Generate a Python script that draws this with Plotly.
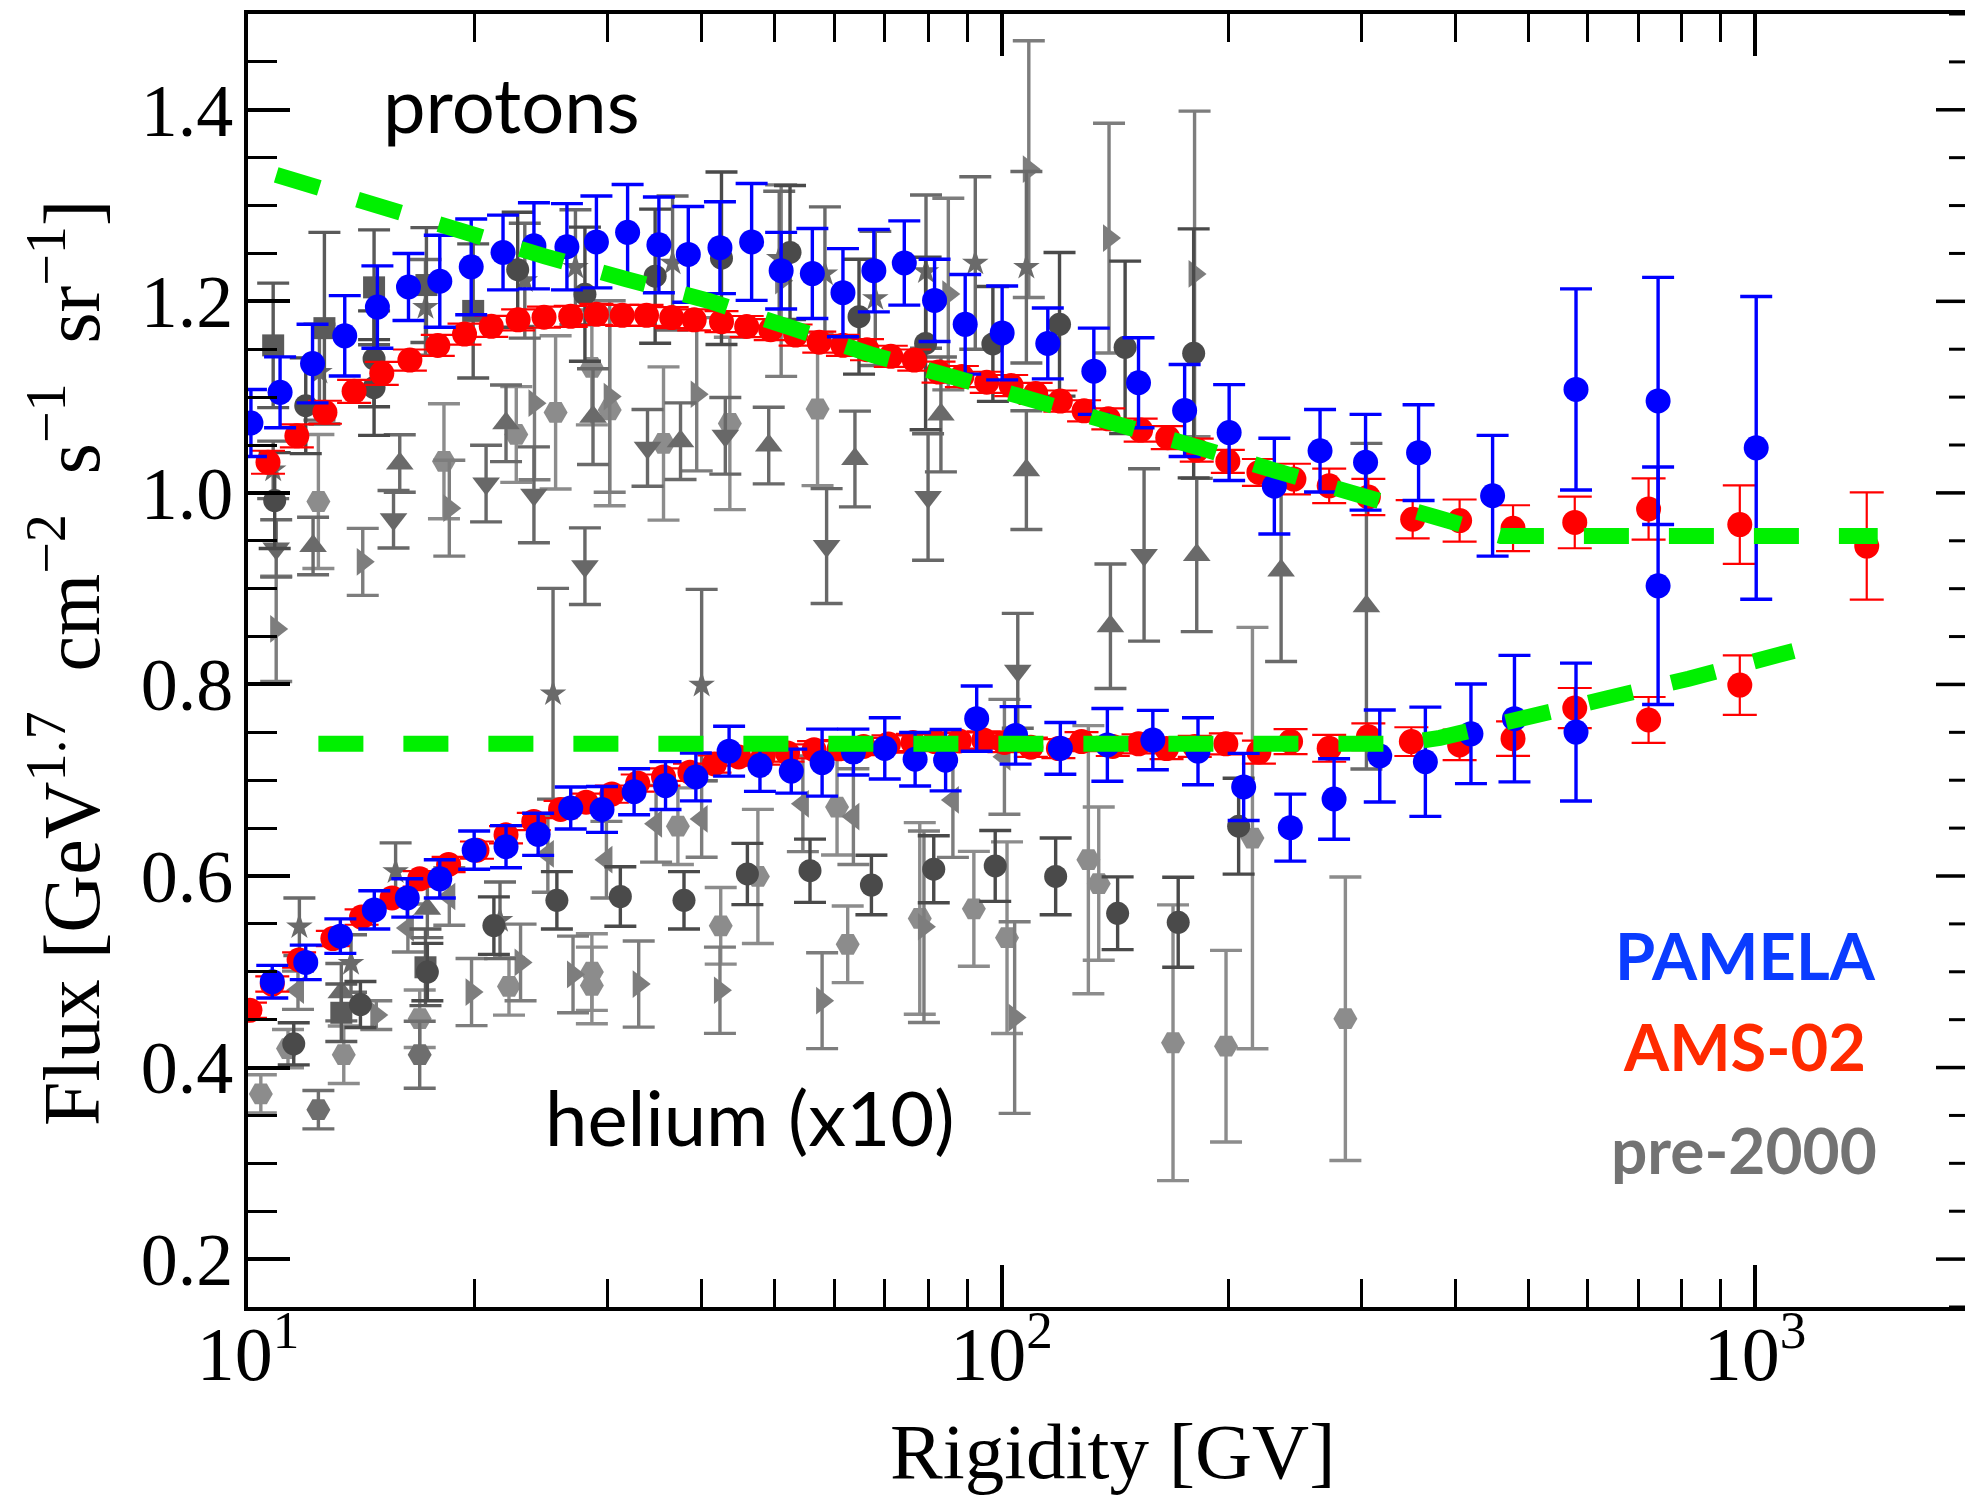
import plotly.graph_objects as go

# ---------------- data ----------------
# PAMELA protons
pam_p_R = [10.09, 11.03, 12.18, 13.44, 14.85, 16.33, 17.97, 19.78, 21.8, 23.96, 26.5, 29.0, 31.9, 35.1, 38.4,
           42.3, 46.6, 51.0, 56.1, 61.6, 67.7, 74.3, 81.5, 89.5, 100.2, 115.2, 132.6, 152, 175, 200.5,
           230.2, 264.7, 304.2, 357.7, 448.5, 578.7, 743.7, 743.7, 1003.7]
pam_p_F = [1.073, 1.105, 1.135, 1.164, 1.194, 1.215, 1.221, 1.236, 1.251, 1.258, 1.257, 1.262, 1.272, 1.259, 1.249,
           1.256, 1.262, 1.232, 1.229, 1.209, 1.232, 1.240, 1.201, 1.176, 1.167, 1.156, 1.127, 1.115, 1.086, 1.063,
           1.007, 1.044, 1.032, 1.042, 0.997, 1.108, 1.096, 0.903, 1.047]
pam_p_E = [0.035, 0.037, 0.041, 0.042, 0.043, 0.035, 0.048, 0.05, 0.039, 0.045, 0.045, 0.048, 0.05, 0.05, 0.05,
           0.048, 0.061, 0.04, 0.047, 0.046, 0.043, 0.044, 0.043, 0.052, 0.049, 0.037, 0.045, 0.047, 0.048, 0.05,
           0.05, 0.043, 0.05, 0.05, 0.063, 0.105, 0.129, 0.124, 0.158]

# AMS-02 protons
ams_p_R = [10.63, 11.61, 12.65, 13.83, 15.05, 16.4, 17.86, 19.38, 21.03, 22.83, 24.71, 26.81, 29.0, 31.38, 33.8,
           36.5, 39.1, 42.5, 45.9, 49.4, 53.3, 57.3, 61.6, 66.3, 71.3, 76.6, 82.5, 88.6, 95.6, 103, 111, 119.7,
           128.7, 138.6, 153, 166.2, 181.6, 199.7, 219.6, 244.4, 272.2, 306.8, 351.3, 405.5, 477.4, 576.5,
           722.4, 954.6, 1407]
ams_p_F = [1.032, 1.0596, 1.0842, 1.106, 1.1248, 1.1387, 1.154, 1.1658, 1.1739, 1.1807, 1.1834, 1.1843, 1.1864,
           1.1854, 1.1854, 1.183, 1.1807, 1.1788, 1.1737, 1.1704, 1.1648, 1.1574, 1.1541, 1.1495, 1.1426, 1.1387,
           1.1261, 1.1215, 1.1155, 1.1121, 1.1038, 1.0959, 1.0857, 1.0773, 1.0656, 1.0577, 1.0447, 1.033, 1.0214,
           1.0144, 1.0074, 0.9957, 0.9725, 0.9711, 0.9631, 0.9692, 0.9832, 0.9669, 0.9445]
ams_p_E = [0.012, 0.012, 0.012, 0.012, 0.012, 0.011, 0.011, 0.011, 0.011, 0.011, 0.011, 0.011, 0.011,
           0.011, 0.011, 0.011, 0.011, 0.011, 0.011, 0.011, 0.011, 0.011, 0.011, 0.011, 0.011, 0.011,
           0.011, 0.011, 0.011, 0.011, 0.011, 0.011, 0.011, 0.011, 0.012, 0.012, 0.012, 0.012, 0.014,
           0.016, 0.018, 0.019, 0.02, 0.022, 0.024, 0.027, 0.032, 0.041, 0.056]

# PAMELA helium (x10)
pam_he_R = [10.77, 11.93, 13.26, 14.71, 16.27, 17.97, 19.96, 22.0, 24.27, 26.81, 29.5, 32.54, 35.82, 39.3,
            43.5, 47.8, 52.6, 57.8, 63.6, 70.0, 76.8, 84.3, 92.7, 104.4, 119.7, 138.2, 158.8, 182.3, 209.6,
            241.7, 276.3, 317.7, 365.2, 419.8, 479.5, 578.7]
pam_he_F = [0.4897, 0.5098, 0.5372, 0.5646, 0.5771, 0.597, 0.627, 0.6306, 0.6435, 0.671, 0.6695, 0.688, 0.6944,
            0.7034, 0.7303, 0.7154, 0.7095, 0.7184, 0.7294, 0.7333, 0.7219, 0.7209, 0.7643, 0.7468, 0.7333,
            0.7369, 0.7419, 0.7303, 0.693, 0.6505, 0.6804, 0.7253, 0.7193, 0.7484, 0.7643, 0.7503]
pam_he_E = [0.017, 0.018, 0.018, 0.02, 0.02, 0.02, 0.02, 0.022, 0.022, 0.022, 0.024, 0.024, 0.025, 0.025,
            0.026, 0.027, 0.023, 0.035, 0.024, 0.032, 0.028, 0.032, 0.034, 0.03, 0.027, 0.038, 0.031, 0.035,
            0.035, 0.035, 0.042, 0.048, 0.057, 0.052, 0.066, 0.072]

# AMS-02 helium (x10)
ams_he_R = [10.06, 10.77, 11.69, 12.96, 14.15, 15.53, 16.9, 18.46, 20.13, 22.0, 23.95, 25.99, 28.1, 30.4, 32.9,
            35.6, 38.6, 41.6, 44.8, 48.3, 52.0, 56.4, 60.9, 65.6, 70.8, 76.3, 81.6, 87.9, 94.7, 100.9, 109.4,
            119, 127.7, 140.5, 152, 165.6, 180.5, 198.5, 219.6, 241.9, 272.2, 306.8, 349.9, 405.5, 477.4,
            576.5, 722.4, 954.6]
ams_he_F = [0.4598, 0.4872, 0.5123, 0.5347, 0.5571, 0.5771, 0.597, 0.612, 0.627, 0.643, 0.657, 0.6695, 0.677,
            0.6855, 0.697, 0.7034, 0.7084, 0.717, 0.7243, 0.7253, 0.7284, 0.7318, 0.7328, 0.7353, 0.7378, 0.7394,
            0.7403, 0.741, 0.742, 0.7394, 0.7344, 0.733, 0.7403, 0.7353, 0.738, 0.733, 0.7353, 0.738, 0.7294,
            0.7403, 0.7333, 0.7453, 0.7403, 0.7369, 0.7434, 0.7753, 0.7629, 0.7993]
ams_he_E = [0.008, 0.008, 0.008, 0.008, 0.008, 0.008, 0.008, 0.008, 0.009, 0.009, 0.009, 0.009, 0.009, 0.009,
            0.009, 0.009, 0.009, 0.009, 0.009, 0.009, 0.009, 0.009, 0.009, 0.009, 0.009, 0.009, 0.009, 0.009,
            0.009, 0.01, 0.01, 0.01, 0.01, 0.01, 0.01, 0.011, 0.011, 0.011, 0.012, 0.013, 0.014, 0.014, 0.015,
            0.016, 0.018, 0.021, 0.024, 0.031]

# model curves (green dashed)
mod_p_R = [10.9, 15.0, 19.3, 24.77, 31.7, 40.8, 52.4, 67.5, 86.5, 110.9, 143, 183.4, 235, 302.7, 386.7, 460, 1455]
mod_p_F = [1.332, 1.298, 1.270, 1.2470, 1.2233, 1.2007, 1.1728, 1.1439, 1.1206, 1.0973, 1.074, 1.047, 1.0214,
           0.9972, 0.9725, 0.955, 0.955]
mod_he_R = [12.4, 340, 381.8, 492, 635, 816.6, 1057, 1125]
mod_he_F = [0.738, 0.738, 0.7443, 0.763, 0.7853, 0.806, 0.8296, 0.835]

# pre-2000 data sets (grey), protons and helium(x10)
old_circ_R = [10.85, 11.93, 14.7, 14.7, 22.8, 28.0, 34.7, 42.5, 52.4, 64.7, 79.3, 97.4, 119.4, 145.9, 179.9,
              11.5, 14.1, 17.3, 21.2, 25.7, 31.2, 37.9, 46, 55.7, 67.2, 81.3, 98.1, 118, 142.6, 171.6, 206.4]
old_circ_F = [0.992, 1.091, 1.140, 1.110, 1.233, 1.2075, 1.2263, 1.245, 1.251, 1.184, 1.156, 1.1555, 1.176, 1.152,
              1.1457, 0.4248, 0.4658, 0.4997, 0.5482, 0.5746, 0.5786, 0.5746, 0.6021, 0.6055, 0.5906, 0.6071,
              0.6105, 0.5996, 0.5611, 0.5517, 0.652]
old_circ_E = [0.05, 0.05, 0.05, 0.05, 0.06, 0.07, 0.07, 0.09, 0.07, 0.06, 0.09, 0.06, 0.075, 0.09, 0.13,
              0.022, 0.024, 0.03, 0.03, 0.03, 0.031, 0.03, 0.032, 0.033, 0.031, 0.035, 0.037, 0.04, 0.038,
              0.047, 0.05]

old_sq_R = [10.8, 12.63, 14.7, 17.25, 19.9, 13.3, 17.2]
old_sq_F = [1.154, 1.172, 1.2146, 1.217, 1.19, 0.4572, 0.5047]
old_sq_E = [0.065, 0.1, 0.06, 0.06, 0.07, 0.03, 0.04]

old_star_R = [10.8, 12.44, 17.2, 23.3, 27.2, 36.6, 50.7, 58.3, 68, 79.4, 92.3, 107.9,
              11.7, 13.7, 15.7, 21.6, 25.4, 40]
old_star_F = [1.024, 1.126, 1.1937, 1.2216, 1.2356, 1.240, 1.245, 1.2286, 1.203, 1.231, 1.240, 1.2356,
              0.547, 0.5087, 0.6046, 0.5537, 0.7903, 0.7993]
old_star_E = [0.03, 0.05, 0.05, 0.06, 0.06, 0.07, 0.07, 0.07, 0.07, 0.08, 0.09, 0.1,
              0.03, 0.03, 0.03, 0.04, 0.11, 0.1]

old_tup_R = [12.2, 15.9, 22.0, 28.7, 37.5, 49.1, 63.9, 83.1, 107.9, 139.5, 181.6, 235, 305, 13.3, 17.3]
old_tup_F = [0.9445, 1.0307, 1.0726, 1.0796, 1.054, 1.0494, 1.0354, 1.0819, 1.0237, 0.8607, 0.9352, 0.919,
             0.8817, 0.4787, 0.5657]
old_tup_E = [0.03, 0.03, 0.04, 0.05, 0.04, 0.04, 0.05, 0.06, 0.062, 0.065, 0.08, 0.095, 0.17, 0.03, 0.03]

old_tdn_R = [10.9, 15.6, 20.7, 23.96, 28.0, 33.9, 43, 58.6, 79.9, 105.1, 154.6]
old_tdn_F = [0.942, 0.9725, 1.0097, 0.998, 0.9235, 1.047, 1.0596, 0.9445, 0.9957, 0.8142, 0.9352]
old_tdn_E = [0.03, 0.03, 0.04, 0.05, 0.04, 0.04, 0.04, 0.06, 0.066, 0.06, 0.09]

old_trt_R = [10.9, 14.2, 18.5, 24, 30.2, 39.4, 51, 85, 108.7, 138.9, 180.4,
             14.8, 19.8, 23, 27, 33, 42.3, 57.8, 78.9, 104.1]
old_trt_F = [0.858, 0.928, 0.984, 1.0937, 1.1006, 1.103, 1.2216, 1.2076, 1.338, 1.266, 1.2286,
             0.4548, 0.4788, 0.5098, 0.4972, 0.4872, 0.4807, 0.4698, 0.547, 0.4522]
old_trt_E = [0.055, 0.035, 0.05, 0.08, 0.1, 0.08, 0.1, 0.1, 0.134, 0.12, 0.17,
             0.015, 0.035, 0.04, 0.04, 0.045, 0.045, 0.05, 0.1, 0.1]

old_tlf_R = [11.65, 16.3, 18.5, 25, 29.9, 34.8, 40, 54.5, 63.6, 86.2, 100.9]
old_tlf_F = [0.4807, 0.5457, 0.5786, 0.623, 0.617, 0.6545, 0.6596, 0.6754, 0.662, 0.6794, 0.7244]
old_tlf_E = [0.02, 0.025, 0.03, 0.04, 0.04, 0.04, 0.04, 0.05, 0.05, 0.06, 0.06]

old_hex_R = [12.4, 18.2, 22.7, 25.6, 28.6, 30.2, 35.6, 43.6, 57,
             10.4, 11.3, 13.4, 16.9, 22.2, 28.6, 28.6, 37.2, 42.4, 47.5, 60.5, 62.5, 77.9, 91.9, 101.7,
             130.4, 134.6, 168.9, 198.6, 215.3, 286]
old_hex_F = [0.991, 1.033, 1.061, 1.084, 1.131, 1.0866, 1.0516, 1.0725, 1.0876,
             0.3725, 0.4198, 0.4134, 0.451, 0.4847, 0.4997, 0.4857, 0.652, 0.548, 0.5996, 0.672, 0.5287,
             0.5557, 0.5657, 0.5356, 0.617, 0.592, 0.4259, 0.4223, 0.6396, 0.451]
old_hex_E = [0.07, 0.06, 0.05, 0.08, 0.06, 0.1, 0.08, 0.09, 0.08,
             0.02, 0.02, 0.03, 0.03, 0.03, 0.04, 0.04, 0.04, 0.04, 0.07, 0.05, 0.04, 0.1, 0.06, 0.1,
             0.14, 0.08, 0.144, 0.1, 0.22, 0.148]

old_hexd_R = [12.4, 16.9]
old_hexd_F = [0.356, 0.4134]
old_hexd_E = [0.02, 0.035]

x_tick_vals = [10, 100, 1000]
x_tick_text = ["10<sup>1</sup>", "10<sup>2</sup>", "10<sup>3</sup>"]
x_minor_vals = [20, 30, 40, 50, 60, 70, 80, 90, 200, 300, 400, 500, 600, 700, 800, 900]

# ---------------- figure ----------------
W, H = 1965, 1502
L, T, B = 248, 14, 195
PW = W - L
PH = H - T - B


def px(X):
    return (X - L) / PW


def py(Y):
    return (H - B - Y) / PH


fig = go.Figure()


def add_set(R, F, E, color, symbol, size, thick, capw, lcolor=None):
    fig.add_trace(go.Scatter(
        x=R, y=F, mode="markers",
        marker=dict(symbol=symbol, size=size, color=color, line=dict(width=0)),
        error_y=dict(type="data", array=E, visible=True, color=lcolor or color,
                     thickness=thick, width=capw),
        showlegend=False, hoverinfo="skip"))


g_err = 3.4
g_cap = 16
add_set(old_hex_R, old_hex_F, old_hex_E, "#8c8c8c", "hexagon2", 24, g_err, g_cap)
add_set(old_hexd_R, old_hexd_F, old_hexd_E, "#6e6e6e", "hexagon2", 24, g_err, g_cap)
add_set(old_trt_R, old_trt_F, old_trt_E, "#7d7d7d", "triangle-right", 24, g_err, g_cap)
add_set(old_tlf_R, old_tlf_F, old_tlf_E, "#7d7d7d", "triangle-left", 24, g_err, g_cap)
add_set(old_tup_R, old_tup_F, old_tup_E, "#6a6a6a", "triangle-up", 24, g_err, g_cap)
add_set(old_tdn_R, old_tdn_F, old_tdn_E, "#686868", "triangle-down", 24, g_err, g_cap)
add_set(old_star_R, old_star_F, old_star_E, "#6a6a6a", "star", 20, g_err, g_cap)
add_set(old_sq_R, old_sq_F, old_sq_E, "#5a5a5a", "square", 22, g_err, g_cap)
add_set(old_circ_R, old_circ_F, old_circ_E, "#4a4a4a", "circle", 23, g_err, g_cap)

add_set(ams_he_R, ams_he_F, ams_he_E, "#ff0000", "circle", 25, 2.2, 17)
add_set(ams_p_R, ams_p_F, ams_p_E, "#ff0000", "circle", 25, 2.2, 17)
add_set(pam_he_R, pam_he_F, pam_he_E, "#0000ff", "circle", 25, 3.4, 16)
add_set(pam_p_R, pam_p_F, pam_p_E, "#0000ff", "circle", 25, 3.4, 16)

for R, F in ((mod_p_R, mod_p_F), (mod_he_R, mod_he_F)):
    fig.add_trace(go.Scatter(x=R, y=F, mode="lines",
                             line=dict(color="#00f000", width=16, dash="45px,40px"),
                             showlegend=False, hoverinfo="skip"))

serif = "Liberation Serif, DejaVu Serif, serif"
sans = "Lato, Liberation Sans, sans-serif"

fig.update_layout(
    width=W, height=H,
    margin=dict(l=L, r=0, t=T, b=B, pad=0),
    paper_bgcolor="white", plot_bgcolor="white",
    showlegend=False,
    xaxis=dict(type="log", range=[1, 1 + PW / 753.5],
               showgrid=False, zeroline=False,
               showline=True, linecolor="black", linewidth=4, mirror="ticks",
               ticks="inside", ticklen=42, tickwidth=3.5, tickcolor="black",
               tickvals=x_tick_vals, ticktext=x_tick_text,
               tickfont=dict(family=serif, size=76, color="black"),
               ticklabelstandoff=-22,
               minor=dict(tickvals=x_minor_vals, ticks="inside", ticklen=28, tickwidth=3,
                          tickcolor="black", showgrid=False)),
    yaxis=dict(range=[0.15, 1.5], showgrid=False, zeroline=False,
               showline=True, linecolor="black", linewidth=4, mirror=False,
               ticks="inside", ticklen=42, tickwidth=3.5, tickcolor="black",
               tick0=0.2, dtick=0.2, tickformat=".1f",
               tickfont=dict(family=serif, size=74, color="black"),
               ticklabelstandoff=-4,
               minor=dict(dtick=0.05, tick0=0.15, ticks="inside", ticklen=29, tickwidth=3,
                          tickcolor="black", showgrid=False)),
)

# right-hand y ticks (the right spine lies just outside the picture)
shapes = []
for k in range(28):
    val = round(0.15 + 0.05 * k, 2)
    major = abs(val / 0.2 - round(val / 0.2)) < 1e-6
    ln = 42 if major else 29
    shapes.append(dict(type="line", xref="paper", yref="y",
                       x0=1 - (ln - 13) / PW, x1=1.0, y0=val, y1=val,
                       line=dict(color="black", width=3.5 if major else 3)))
fig.update_layout(shapes=shapes)

NB = "\u00a0"
ytitle = ("Flux [GeV<sup>1.7</sup>" + NB + " cm<sup>\u22122</sup>" + NB + " s<sup>\u22121</sup>" + NB +
          " sr<sup>\u22121</sup>]")

ann = [
    dict(text="protons", x=px(511), y=py(103), font=dict(family=sans, size=76, color="black")),
    dict(text="helium (x10)", x=px(750), y=py(1116), font=dict(family=sans, size=76, color="black")),
    dict(text="<b>PAMELA</b>", x=px(1745), y=py(955), font=dict(family=sans, size=65, color="#0a3cff")),
    dict(text="<b>AMS-02</b>", x=px(1744), y=py(1046), font=dict(family=sans, size=65, color="#ff2a00")),
    dict(text="<b>pre-2000</b>", x=px(1744), y=py(1149), font=dict(family=sans, size=64, color="#737373")),
    dict(text="Rigidity [GV]", x=px(1112), y=py(1451), font=dict(family=serif, size=79, color="black")),
    dict(text=ytitle, x=px(66), y=py(663), textangle=-90, font=dict(family=serif, size=80, color="black")),
]
for a in ann:
    a.update(xref="paper", yref="paper", showarrow=False, xanchor="center", yanchor="middle")
fig.update_layout(annotations=ann)

fig.write_html("out.html")
